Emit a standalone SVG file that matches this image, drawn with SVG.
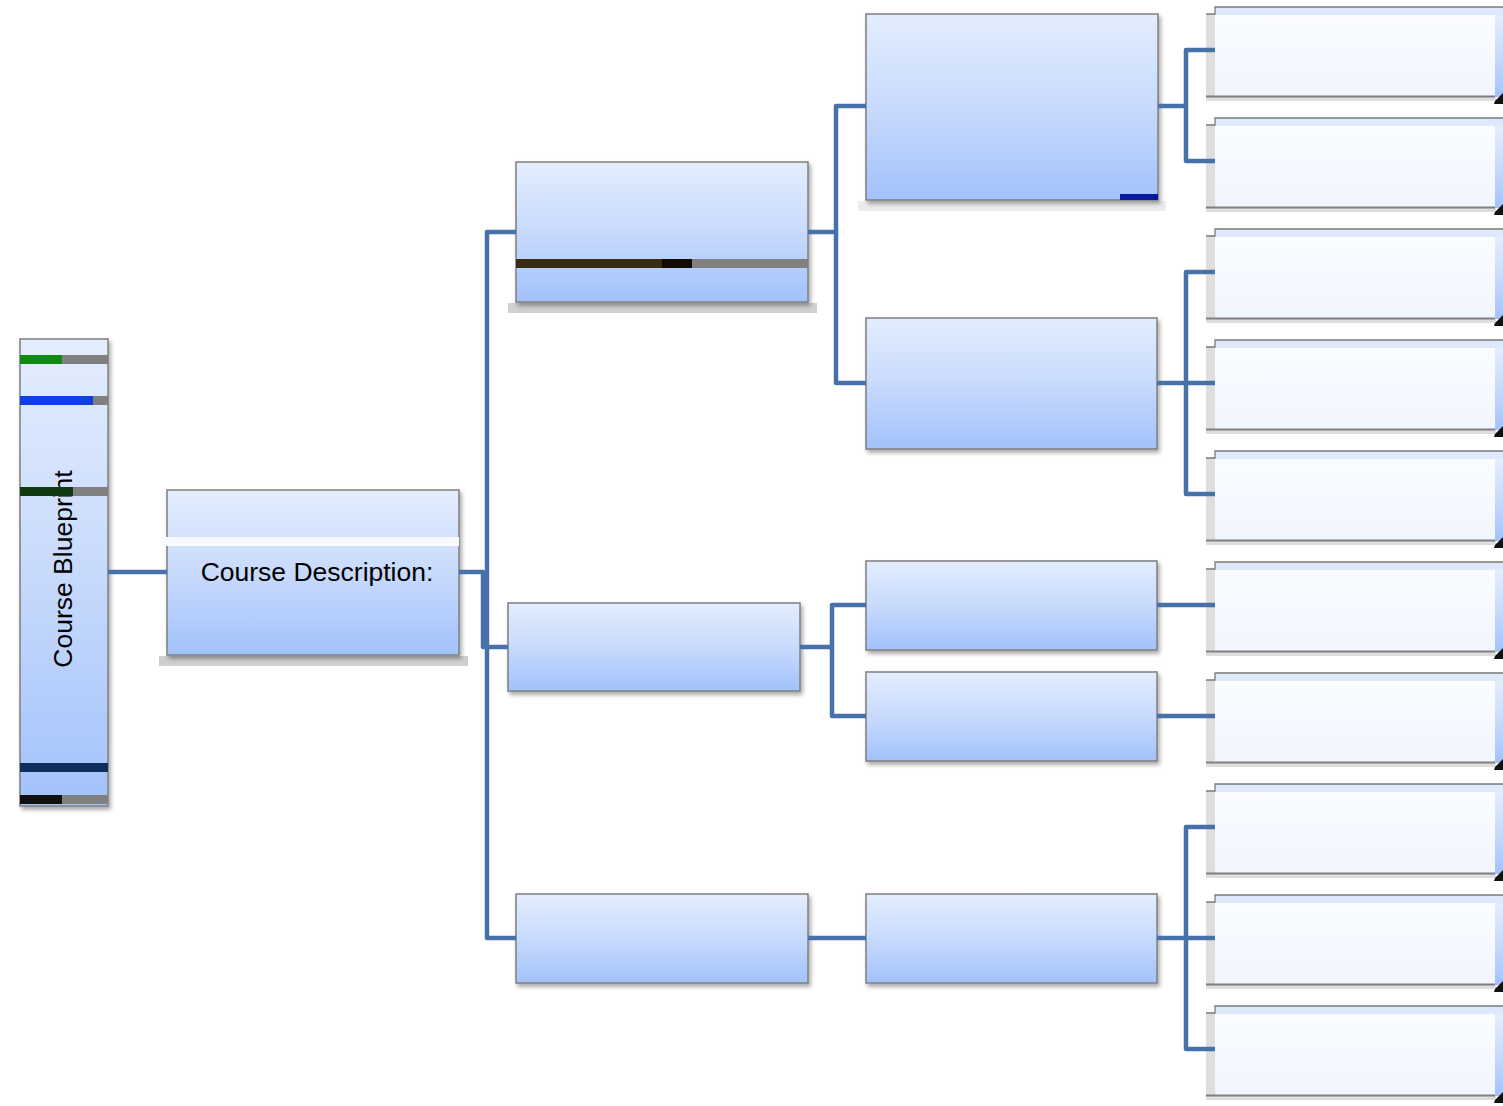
<svg xmlns="http://www.w3.org/2000/svg" xmlns:xlink="http://www.w3.org/1999/xlink" width="1503" height="1106" viewBox="0 0 1503 1106">
<style>
.box{fill:url(#blue);stroke:#7f7f7f;stroke-width:1.5;filter:url(#sh)}
.conn{fill:none;stroke:#4771a9;stroke-width:4.5;stroke-linejoin:round}
.lbl{font-family:"Liberation Sans",Arial,sans-serif;font-size:26.5px;fill:#000}
</style>
<defs>
<linearGradient id="blue" x1="0" y1="0" x2="0" y2="1">
<stop offset="0" stop-color="#e3edfd"/>
<stop offset="0.5" stop-color="#c8dafc"/>
<stop offset="1" stop-color="#a2c2fb"/>
</linearGradient>
<linearGradient id="pale" x1="0" y1="0" x2="0" y2="1">
<stop offset="0" stop-color="#fafcff"/>
<stop offset="1" stop-color="#f1f5fe"/>
</linearGradient>
<filter id="sh" x="-5%" y="-5%" width="112%" height="120%">
<feDropShadow dx="2" dy="3" stdDeviation="2" flood-color="#000" flood-opacity="0.35"/>
</filter>
<g id="l4">
<rect x="0" y="0" width="288" height="8" fill="#dfe9fc"/>
<rect x="0" y="8" width="280" height="82" fill="url(#pale)"/>
<rect x="280" y="8" width="8" height="82" fill="url(#blue)"/>
<rect x="-9" y="7" width="9" height="83" fill="#dedede"/>
<rect x="-9" y="90" width="290" height="4" fill="#c8c8c8" opacity="0.6"/>
<path d="M-9,89.5 H280" stroke="#808080" stroke-width="2" fill="none"/>
<path d="M-9,7 H0 V0 H288" stroke="#7a7a7a" stroke-width="1.3" fill="none"/>
<path d="M280,94 L288,86 L288,97 L279,97 Z" fill="#111"/>
</g>
</defs>
<rect width="1503" height="1106" fill="#fff"/>

<g id="root">
<rect class="box" x="20" y="339" width="88" height="467"/>
<text class="lbl" transform="translate(72,569) rotate(-90)" text-anchor="middle">Course Blueprint</text>
</g>
<g id="course-description">
<rect x="159" y="656" width="309" height="10" fill="#cfcfcf"/>
<rect class="box" x="167" y="490" width="292" height="165"/>
<rect x="160" y="537" width="299" height="9" fill="#f7fbff"/>
<text class="lbl" x="317" y="581" text-anchor="middle">Course Description:</text>
</g>

<g id="l2a">
<rect x="508" y="303" width="309" height="10" fill="#d0d0d0"/>
<rect class="box" x="516" y="162" width="292" height="140"/>
</g>
<g id="l2b"><rect class="box" x="508" y="603" width="292" height="88"/></g>
<g id="l2c"><rect class="box" x="516" y="894" width="292" height="89"/></g>

<g id="l3a">
<rect x="858" y="201" width="308" height="10" fill="#ececec"/>
<rect class="box" x="866" y="14" width="292" height="186"/>
</g>
<g id="l3b"><rect class="box" x="866" y="318" width="291" height="131"/></g>
<g id="l3c"><rect class="box" x="866" y="561" width="291" height="89"/></g>
<g id="l3d"><rect class="box" x="866" y="672" width="291" height="89"/></g>
<g id="l3e"><rect class="box" x="866" y="894" width="291" height="89"/></g>

<g id="l4-1" transform="translate(1215,7)"><use href="#l4"/></g>
<g id="l4-2" transform="translate(1215,118)"><use href="#l4"/></g>
<g id="l4-3" transform="translate(1215,229)"><use href="#l4"/></g>
<g id="l4-4" transform="translate(1215,340)"><use href="#l4"/></g>
<g id="l4-5" transform="translate(1215,451)"><use href="#l4"/></g>
<g id="l4-6" transform="translate(1215,562)"><use href="#l4"/></g>
<g id="l4-7" transform="translate(1215,673)"><use href="#l4"/></g>
<g id="l4-8" transform="translate(1215,784)"><use href="#l4"/></g>
<g id="l4-9" transform="translate(1215,895)"><use href="#l4"/></g>
<g id="l4-10" transform="translate(1215,1006)"><use href="#l4"/></g>

<g id="artifacts">
<rect x="20" y="355" width="88" height="9" fill="#808080"/>
<rect x="20" y="355" width="42" height="9" fill="#108a10"/>
<rect x="20" y="396" width="88" height="9" fill="#808080"/>
<rect x="20" y="396" width="73" height="9" fill="#1040e0"/>
<rect x="20" y="487" width="88" height="9" fill="#808080"/>
<rect x="20" y="487" width="53" height="9" fill="#123a12"/>
<rect x="20" y="763" width="88" height="9" fill="#0e2f5e"/>
<rect x="20" y="795" width="88" height="9" fill="#808080"/>
<rect x="20" y="795" width="42" height="9" fill="#111"/>
<rect x="516" y="259" width="292" height="9" fill="#808080"/>
<rect x="516" y="259" width="176" height="9" fill="#140c02"/>
<rect x="516" y="259" width="146" height="9" fill="#3a2a10"/>
<rect x="1120" y="194" width="38" height="6" fill="#0a1aa0"/>
</g>

<g id="connectors">
<path class="conn" d="M108,572 H167"/>
<path class="conn" d="M459,572 H483 V647 H508"/>
<path class="conn" d="M516,232 H487 V938 H516"/>
<path class="conn" d="M808,232 H836"/>
<path class="conn" d="M866,106 H836 V383 H866"/>
<path class="conn" d="M800,647 H832"/>
<path class="conn" d="M866,605 H832 V716 H866"/>
<path class="conn" d="M808,938 H866"/>
<path class="conn" d="M1158,106 H1186"/>
<path class="conn" d="M1215,50 H1186 V161 H1215"/>
<path class="conn" d="M1157,383 H1215"/>
<path class="conn" d="M1215,272 H1186 V494 H1215"/>
<path class="conn" d="M1157,605 H1215"/>
<path class="conn" d="M1157,716 H1215"/>
<path class="conn" d="M1157,938 H1215"/>
<path class="conn" d="M1215,827 H1186 V1049 H1215"/>
</g>
</svg>
